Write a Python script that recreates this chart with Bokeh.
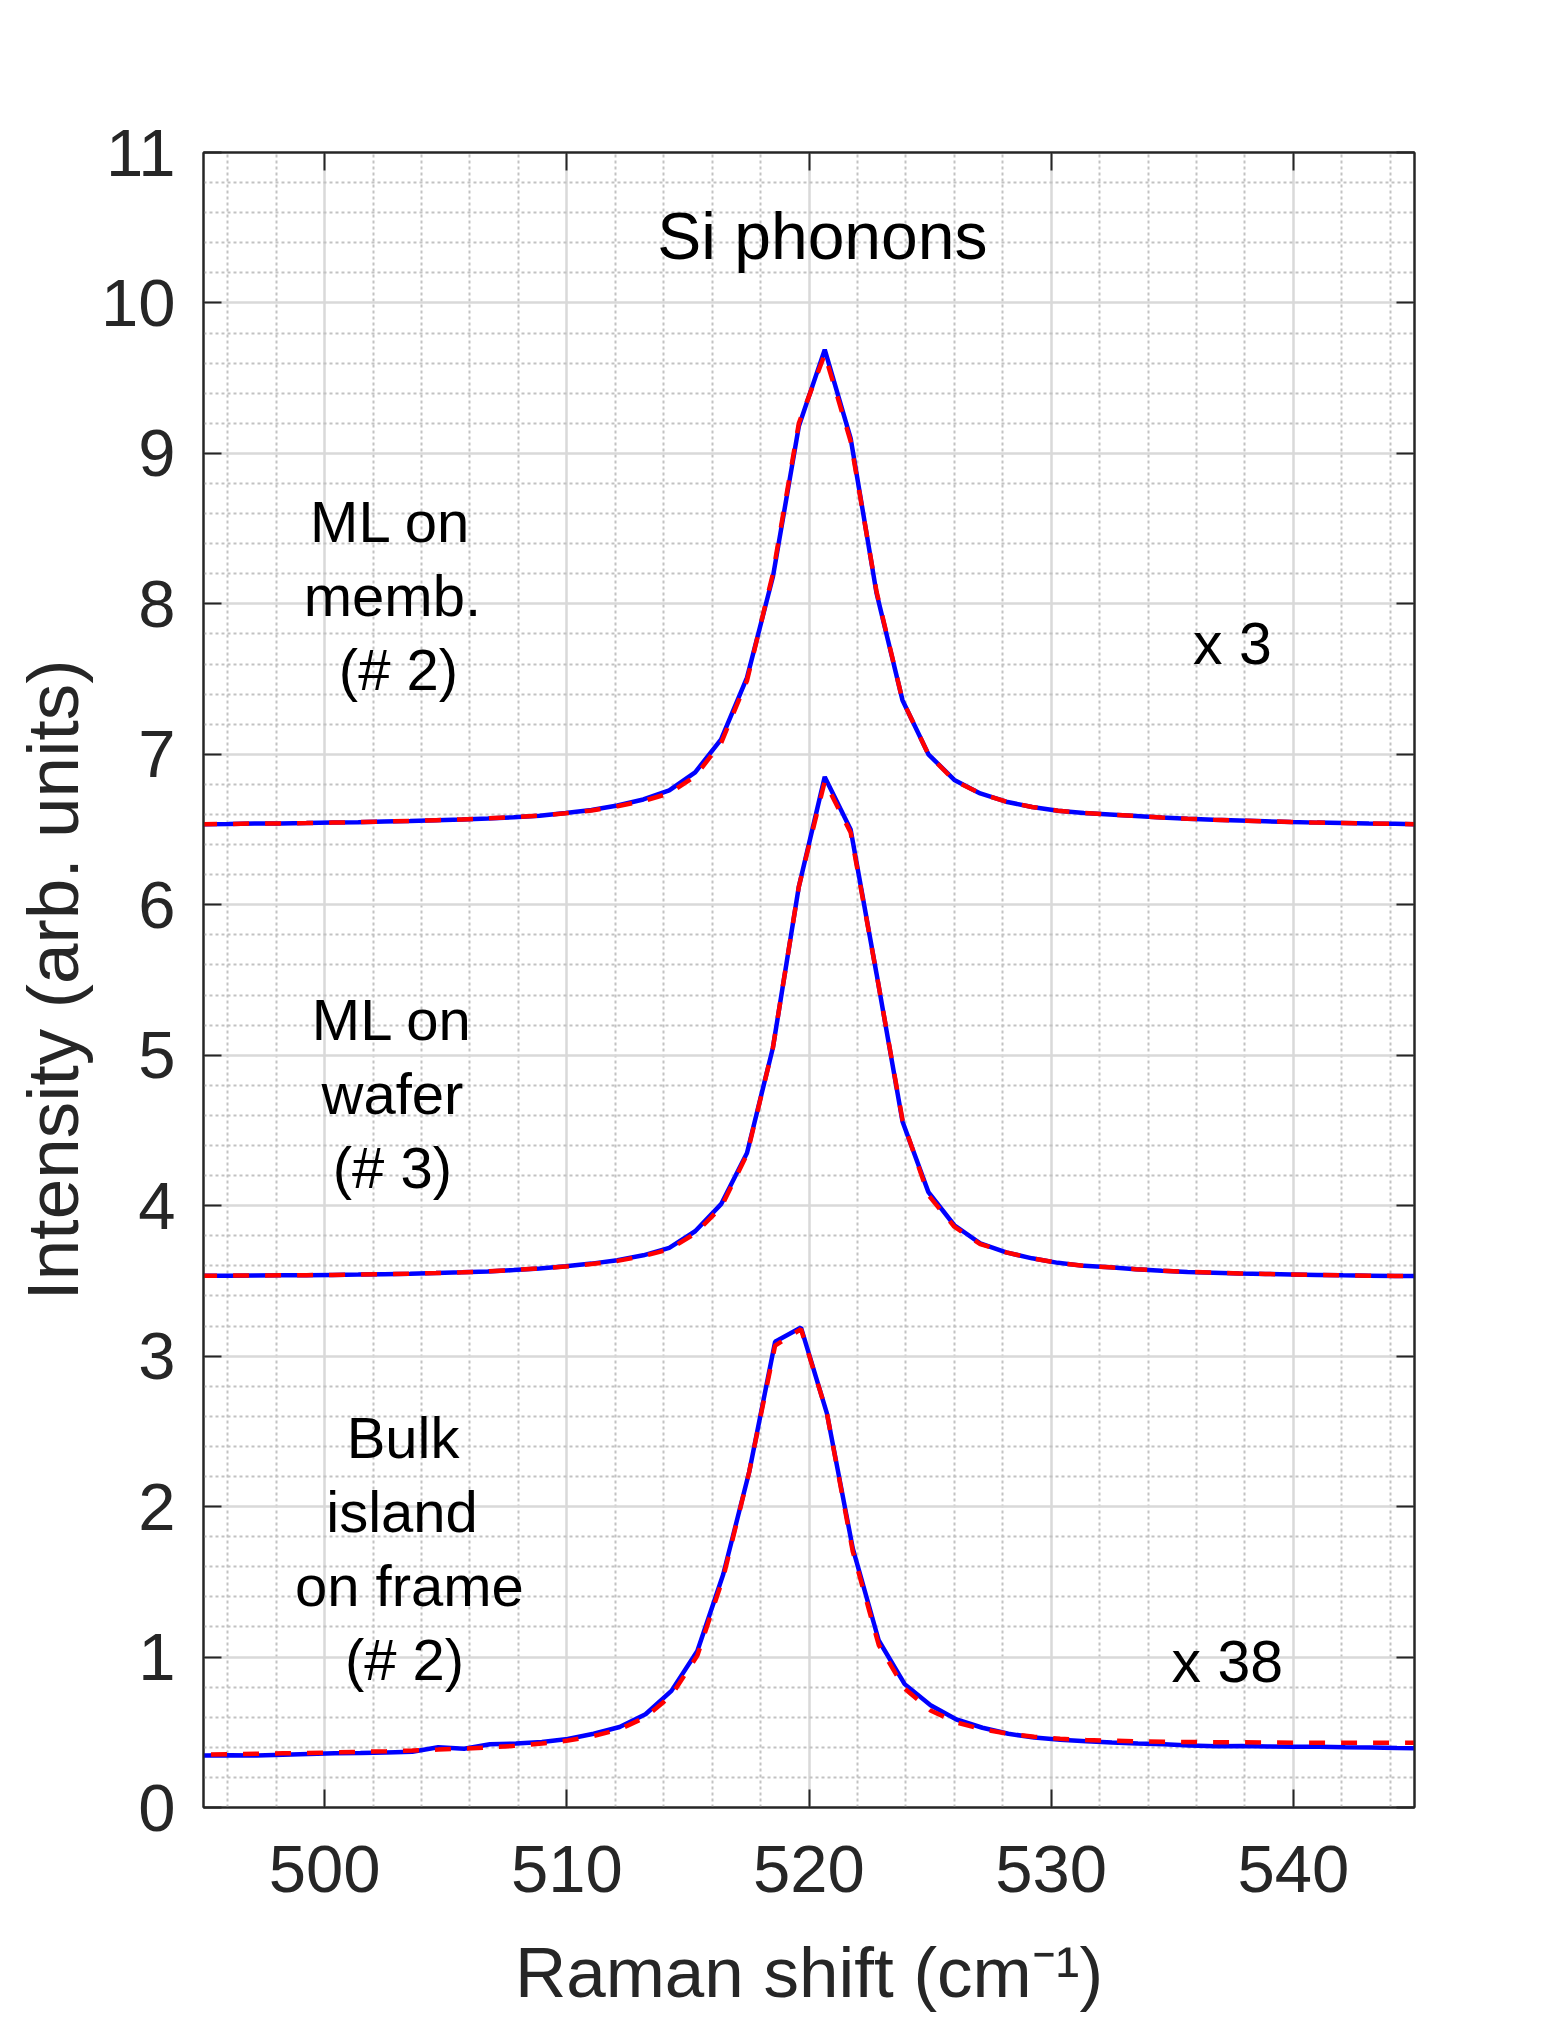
from bokeh.plotting import figure
from bokeh.models import (Range1d, FixedTicker, LinearAxis, ColumnDataSource,
                          CustomJSTickFormatter)
from bokeh.core.properties import value
from bokeh.embed import file_html
from bokeh.resources import INLINE

# ---------------- data ----------------
x_ml = [494.90, 496.04, 497.11, 498.18, 499.25, 500.32, 501.39, 502.46, 503.53, 504.60,
        505.67, 506.74, 507.81, 508.88, 509.95, 511.02, 512.09, 513.16, 514.23, 515.30,
        516.37, 517.44, 518.51, 519.58, 520.65, 521.72, 522.79, 523.86, 524.93, 526.00,
        527.07, 528.14, 529.21, 530.28, 531.35, 532.42, 533.49, 534.56, 535.63, 536.70,
        537.77, 538.84, 539.91, 540.98, 542.05, 543.12, 544.19, 545.26]

memb_data = [6.535, 6.537, 6.540, 6.541, 6.543, 6.546, 6.549, 6.553, 6.557, 6.562,
             6.567, 6.574, 6.582, 6.592, 6.610, 6.630, 6.660, 6.700, 6.760, 6.880,
             7.100, 7.510, 8.180, 9.180, 9.690, 9.100, 8.070, 7.360, 7.000, 6.830,
             6.740, 6.685, 6.650, 6.625, 6.610, 6.600, 6.590, 6.580, 6.572, 6.565,
             6.560, 6.555, 6.550, 6.546, 6.543, 6.540, 6.538, 6.535]
memb_fit = [6.535, 6.537, 6.540, 6.541, 6.543, 6.546, 6.549, 6.553, 6.557, 6.562,
            6.567, 6.574, 6.582, 6.592, 6.608, 6.627, 6.655, 6.690, 6.740, 6.855,
            7.075, 7.490, 8.200, 9.200, 9.660, 9.080, 8.080, 7.360, 7.000, 6.825,
            6.740, 6.685, 6.650, 6.625, 6.610, 6.600, 6.590, 6.580, 6.572, 6.565,
            6.560, 6.555, 6.550, 6.546, 6.543, 6.540, 6.538, 6.535]

wafer_data = [3.535, 3.535, 3.536, 3.537, 3.538, 3.540, 3.542, 3.545, 3.548, 3.552,
              3.557, 3.563, 3.572, 3.583, 3.597, 3.615, 3.638, 3.670, 3.720, 3.830,
              4.010, 4.350, 5.050, 6.120, 6.850, 6.500, 5.540, 4.560, 4.090, 3.870,
              3.750, 3.690, 3.650, 3.620, 3.600, 3.590, 3.578, 3.568, 3.560, 3.555,
              3.550, 3.546, 3.543, 3.540, 3.537, 3.535, 3.533, 3.532]
wafer_fit = [3.535, 3.535, 3.536, 3.537, 3.538, 3.540, 3.542, 3.545, 3.548, 3.552,
             3.557, 3.563, 3.572, 3.583, 3.595, 3.612, 3.633, 3.665, 3.710, 3.815,
             3.990, 4.340, 5.050, 6.120, 6.820, 6.480, 5.540, 4.570, 4.070, 3.860,
             3.745, 3.690, 3.650, 3.620, 3.600, 3.590, 3.578, 3.568, 3.560, 3.555,
             3.550, 3.546, 3.543, 3.540, 3.537, 3.535, 3.533, 3.532]

x_bulk = [493.99, 495.06, 496.13, 497.20, 498.27, 499.34, 500.41, 501.48, 502.55, 503.62,
          504.69, 505.76, 506.83, 507.90, 508.97, 510.04, 511.11, 512.18, 513.25, 514.32,
          515.39, 516.46, 517.53, 518.60, 519.67, 520.74, 521.81, 522.88, 523.95, 525.02,
          526.09, 527.16, 528.23, 529.30, 530.37, 531.44, 532.51, 533.58, 534.65, 535.72,
          536.79, 537.86, 538.93, 540.00, 541.07, 542.14, 543.21, 544.28, 545.35]
bulk_data = [0.345, 0.345, 0.347, 0.345, 0.350, 0.355, 0.360, 0.362, 0.365, 0.370,
             0.400, 0.390, 0.420, 0.425, 0.435, 0.455, 0.490, 0.535, 0.620, 0.775,
             1.040, 1.550, 2.230, 3.095, 3.190, 2.620, 1.720, 1.110, 0.820, 0.680,
             0.585, 0.530, 0.490, 0.465, 0.450, 0.440, 0.432, 0.425, 0.420, 0.412,
             0.407, 0.408, 0.405, 0.404, 0.403, 0.400, 0.398, 0.395, 0.393]
bulk_fit = [0.350, 0.352, 0.355, 0.357, 0.360, 0.363, 0.366, 0.370, 0.374, 0.379,
            0.385, 0.392, 0.400, 0.410, 0.425, 0.445, 0.475, 0.520, 0.600, 0.745,
            1.010, 1.530, 2.230, 3.070, 3.180, 2.620, 1.700, 1.080, 0.790, 0.645,
            0.565, 0.520, 0.490, 0.470, 0.457, 0.449, 0.444, 0.440, 0.437, 0.435,
            0.434, 0.433, 0.432, 0.431, 0.431, 0.430, 0.430, 0.430, 0.430]

x_ticks = [500, 510, 520, 530, 540]
x_minor = [496, 498, 502, 504, 506, 508, 512, 514, 516, 518, 522, 524, 526, 528,
           532, 534, 536, 538, 542, 544]
y_ticks = [0, 1, 2, 3, 4, 5, 6, 7, 8, 9, 10, 11]
y_minor = [round(0.2 * i, 1) for i in range(56) if i % 5 != 0]

title_text = ["Si phonons"]
title_x = [520.55]
title_y = [10.445]

note_text = ["ML on", "memb.", "(# 2)", "ML on", "wafer", "(# 3)",
             "Bulk", "island", "on frame", "(# 2)"]
note_x = [502.73, 502.80, 503.05, 502.80, 502.80, 502.80,
          503.24, 503.20, 503.50, 503.30]
note_y = [8.545, 8.055, 7.565, 5.235, 4.745, 4.255,
          2.460, 1.970, 1.475, 0.985]

scale_text = ["x 3", "x 38"]
scale_x = [537.48, 537.27]
scale_y = [7.735, 0.965]

# ---------------- figure ----------------
FONT = "Liberation Sans"
AXC = "#262626"

p = figure(width=1547, height=2015, output_backend="svg", toolbar_location=None,
           x_range=Range1d(495, 545), y_range=Range1d(0, 11),
           min_border_left=203, min_border_right=133, min_border_top=152,
           min_border_bottom=208)
p.background_fill_color = "white"
p.border_fill_color = "white"
p.outline_line_color = AXC
p.outline_line_width = 2

xt = FixedTicker(ticks=x_ticks, minor_ticks=x_minor)
yt = FixedTicker(ticks=y_ticks, minor_ticks=y_minor)
p.xaxis.ticker = xt
p.yaxis.ticker = yt
p.xgrid.ticker = xt
p.ygrid.ticker = yt

for g in (p.xgrid, p.ygrid):
    g.grid_line_color = "#d9d9d9"
    g.grid_line_width = 2.5
    g.minor_grid_line_color = "#c2c2c2"
    g.minor_grid_line_width = 2
    g.minor_grid_line_dash = "3 3"

for ax in (p.xaxis, p.yaxis):
    ax.axis_line_color = AXC
    ax.axis_line_width = 2
    ax.major_tick_line_color = AXC
    ax.major_tick_line_width = 2
    ax.major_tick_in = 18
    ax.major_tick_out = 0
    ax.minor_tick_line_color = None
    ax.major_label_text_font = FONT
    ax.major_label_text_font_size = "67px"
    ax.major_label_text_color = AXC
    ax.axis_label_text_font = FONT
    ax.axis_label_text_font_style = "normal"
    ax.axis_label_text_color = AXC

p.xaxis.axis_label = "Raman shift (cm\u207b\u00b9)"
p.yaxis.axis_label = "Intensity (arb. units)"
p.xaxis.axis_label_text_font_size = "71px"
p.yaxis.axis_label_text_font_size = "73px"
p.xaxis.major_label_standoff = 34
p.xaxis.axis_label_standoff = 38
p.yaxis.major_label_standoff = 24
p.yaxis.axis_label_standoff = 5

blank = CustomJSTickFormatter(code="return ''")
top_ax = LinearAxis(ticker=xt, formatter=blank)
right_ax = LinearAxis(ticker=yt, formatter=blank)
for ax in (top_ax, right_ax):
    ax.axis_line_color = AXC
    ax.axis_line_width = 2
    ax.major_tick_line_color = AXC
    ax.major_tick_line_width = 2
    ax.major_tick_in = 18
    ax.major_tick_out = 0
    ax.minor_tick_line_color = None
    ax.major_label_text_font_size = "1px"
p.add_layout(top_ax, "above")
p.add_layout(right_ax, "right")

# ---------------- curves ----------------
BLUE = "#0000ff"
RED = "#ff0000"
LW = 4.5
p.line(x_ml, memb_data, line_color=BLUE, line_width=LW)
p.line(x_ml, memb_fit, line_color=RED, line_width=LW, line_dash="16 16")
p.line(x_ml, wafer_data, line_color=BLUE, line_width=LW)
p.line(x_ml, wafer_fit, line_color=RED, line_width=LW, line_dash="16 16")
p.line(x_bulk, bulk_data, line_color=BLUE, line_width=LW)
p.line(x_bulk, bulk_fit, line_color=RED, line_width=LW, line_dash="16 16")

# ---------------- annotations ----------------
def add_text(xs, ys, ts, size):
    src = ColumnDataSource(dict(x=xs, y=ys, t=ts))
    p.text(x="x", y="y", text="t", source=src, text_font=value(FONT),
           text_font_size=value(size), text_color="black",
           text_align="center", text_baseline="middle")

add_text(title_x, title_y, title_text, "66px")
add_text(note_x, note_y, note_text, "58px")
add_text(scale_x, scale_y, scale_text, "59px")

open("out.html", "w").write(file_html(p, INLINE))
